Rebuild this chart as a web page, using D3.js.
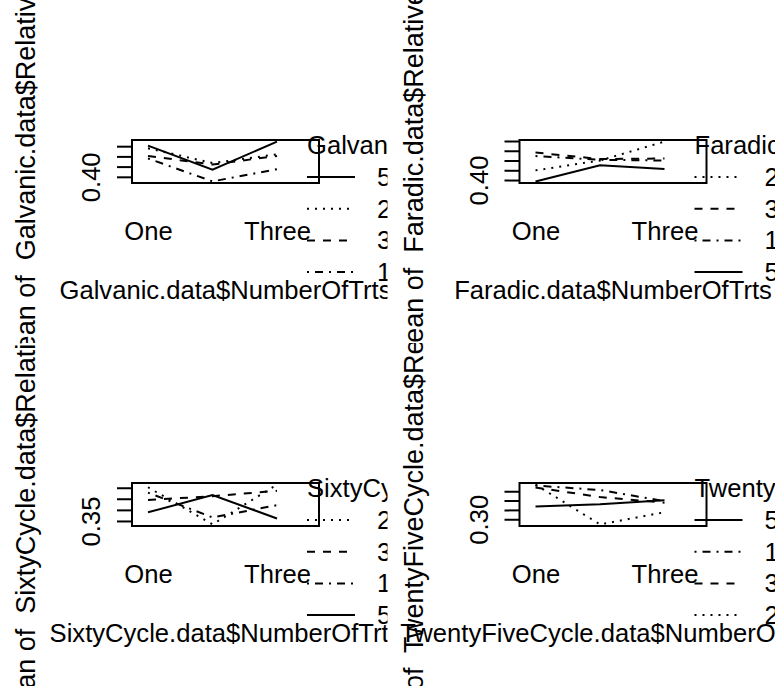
<!DOCTYPE html>
<html>
<head>
<meta charset="utf-8">
<script src="https://cdn.jsdelivr.net/npm/d3@7"></script>
<style>
body { margin: 0; background: #fff; }
text { font-family: "Liberation Sans", Arial, sans-serif; font-size: 25.6px; fill: #000; }
text.ylab { font-size: 27px; }
</style>
</head>
<body>
<div id="chart"></div>
<script>
var xLevels = ["One", "Two", "Three"];
var traceLevels = ["1", "2", "3", "5"];

// cell means, rows follow traceLevels, columns follow xLevels
var galvanicMeans = [
  [0.4180, 0.3955, 0.4075],
  [0.4280, 0.4135, 0.4220],
  [0.4205, 0.4120, 0.4205],
  [0.4305, 0.4070, 0.4345]
];
var faradicMeans = [
  [0.4246, 0.4207, 0.4200],
  [0.4099, 0.4200, 0.4394],
  [0.4282, 0.4215, 0.4221],
  [0.3986, 0.4151, 0.4113]
];
var sixtyCycleMeans = [
  [0.3755, 0.3532, 0.3642],
  [0.3804, 0.3469, 0.3828],
  [0.3690, 0.3723, 0.3772],
  [0.3578, 0.3733, 0.3522]
];
var twentyFiveCycleMeans = [
  [0.3360, 0.3312, 0.3194],
  [0.3370, 0.2945, 0.3075],
  [0.3339, 0.3237, 0.3177],
  [0.3137, 0.3161, 0.3204]
];

var panelNames = ["Galvanic", "Faradic", "SixtyCycle", "TwentyFiveCycle"];
var panelMeans = [galvanicMeans, faradicMeans, sixtyCycleMeans, twentyFiveCycleMeans];

var W = 775, H = 686;
var figW = W / 2, figH = H / 2;
var box = {left: 132, top: 140, width: 187, height: 43};
// line types by trace level, like R's lty = nc:1
var ltys = {"1": "2,6,8,6", "2": "2,6", "3": "8,8", "5": null};

var svg = d3.select("#chart").append("svg")
  .attr("width", W)
  .attr("height", H)
  .style("background", "#fff");

// R drops axis labels closer than the width of an "m"
var mText = svg.append("text").text("m");
var gap = mText.node().getComputedTextLength();
mText.remove();

function dropOverlaps(sel, centerOf) {
  var lastEnd = -Infinity;
  sel.each(function(d) {
    var len = this.getComputedTextLength();
    var c = centerOf(d);
    if (c - len / 2 < lastEnd + gap) d3.select(this).remove();
    else lastEnd = c + len / 2;
  });
}

panelNames.forEach(function(name, p) {
  var means = panelMeans[p];
  var ox = (p % 2) * figW, oy = Math.floor(p / 2) * figH;

  svg.append("clipPath").attr("id", "fig" + p)
    .append("rect").attr("width", figW).attr("height", figH);

  var fig = svg.append("g")
    .attr("transform", "translate(" + ox + "," + oy + ")")
    .attr("clip-path", "url(#fig" + p + ")");
  var g = fig.append("g")
    .attr("transform", "translate(" + box.left + "," + box.top + ")");

  var all = d3.merge(means);
  var lo = d3.min(all), hi = d3.max(all), r = hi - lo;
  var y = d3.scaleLinear()
    .domain([lo - 0.04 * r, hi + 0.04 * r])
    .range([box.height, 0]);
  var x = d3.scaleLinear()
    .domain([0.752, 3.651])
    .range([0, box.width]);

  // y axis
  var yAxis = g.append("g")
    .call(d3.axisLeft(y).tickValues(y.ticks(5)).tickSize(15).tickFormat(d3.format(".2f")));
  yAxis.select(".domain").remove();
  yAxis.selectAll("line").attr("stroke-width", 2);
  yAxis.selectAll("text")
    .attr("transform", "rotate(-90)")
    .attr("x", 0)
    .attr("y", -32)
    .attr("dy", null)
    .attr("text-anchor", "middle");
  dropOverlaps(yAxis.selectAll("text"), function(d) { return -y(d); });

  // x axis, labels only
  var xAxis = g.append("g")
    .attr("transform", "translate(0," + box.height + ")")
    .call(d3.axisBottom(x).tickValues([1, 2, 3]).tickSize(0)
      .tickFormat(function(i) { return xLevels[i - 1]; }));
  xAxis.select(".domain").remove();
  xAxis.selectAll("text").attr("y", 57).attr("dy", null);
  dropOverlaps(xAxis.selectAll("text"), function(d) { return x(d); });

  // lines
  var line = d3.line()
    .x(function(d, i) { return x(i + 1); })
    .y(function(d) { return y(d); });

  g.selectAll(".trace")
    .data(means)
    .enter()
    .append("path")
      .attr("class", "trace")
      .attr("d", line)
      .attr("fill", "none")
      .attr("stroke", "#000")
      .attr("stroke-width", 2)
      .attr("stroke-dasharray", function(d, i) { return ltys[traceLevels[i]]; });

  // box
  g.append("rect")
    .attr("width", box.width)
    .attr("height", box.height)
    .attr("fill", "none")
    .attr("stroke", "#000")
    .attr("stroke-width", 2);

  // axis titles
  g.append("text")
    .attr("x", box.width / 2)
    .attr("y", box.height + 116)
    .attr("text-anchor", "middle")
    .text(name + ".data$NumberOfTrts");

  g.append("text")
    .attr("class", "ylab")
    .attr("transform", "translate(-97," + (box.height / 2) + ") rotate(-90)")
    .attr("text-anchor", "middle")
    .style("white-space", "pre")
    .text("mean of  " + name + ".data$RelativeEff");

  // legend, ordered by the value at the last level
  var order = d3.range(traceLevels.length).sort(function(a, b) {
    return means[b][2] - means[a][2];
  });
  var leg = g.append("g").attr("transform", "translate(175,0)");
  leg.append("text")
    .attr("x", 0)
    .attr("y", 5.3)
    .attr("dy", "0.35em")
    .text(name + ".data$Intensity");
  var item = leg.selectAll(".item")
    .data(order)
    .enter()
    .append("g")
      .attr("class", "item")
      .attr("transform", function(d, i) { return "translate(0," + (37 + i * 31.7) + ")"; });
  item.append("line")
    .attr("x1", 0).attr("x2", 48)
    .attr("stroke", "#000")
    .attr("stroke-width", 2)
    .attr("stroke-dasharray", function(d) { return ltys[traceLevels[d]]; });
  item.append("text")
    .attr("x", 70)
    .attr("dy", "0.35em")
    .text(function(d) { return traceLevels[d]; });
});
</script>
</body>
</html>
